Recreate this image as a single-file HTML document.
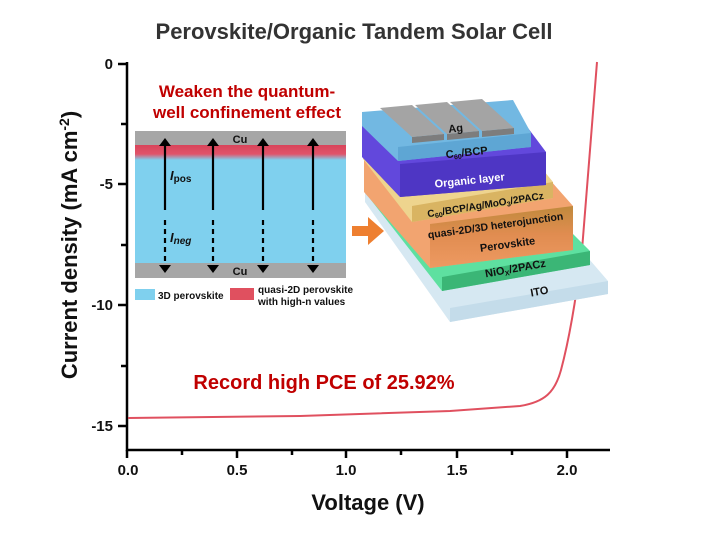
<!DOCTYPE html>
<html><head><meta charset="utf-8"><style>
html,body{margin:0;padding:0;background:#fff;width:709px;height:543px;overflow:hidden}
svg{display:block}
text{font-family:"Liberation Sans",Arial,sans-serif;font-weight:bold}
</style></head><body>
<svg width="709" height="543" viewBox="0 0 709 543">
<defs>
<linearGradient id="rg" x1="0" y1="0" x2="0" y2="1">
<stop offset="0" stop-color="#d9435a"/><stop offset="0.6" stop-color="#e0546a"/><stop offset="1" stop-color="#7fd0ee"/></linearGradient>
<linearGradient id="og" x1="0" y1="0" x2="0" y2="1">
<stop offset="0" stop-color="#c08a3c"/><stop offset="0.45" stop-color="#e08c50"/><stop offset="1" stop-color="#ee9a62"/></linearGradient>
</defs>
<text x="354" y="39" font-size="22" fill="#333" text-anchor="middle">Perovskite/Organic Tandem Solar Cell</text>
<g stroke="#000" stroke-width="2.5" fill="none">
<path d="M127,62 L127,450 L610,450"/>
<path d="M118,64 H127 M121,124 H127 M118,184 H127 M121,245 H127 M118,305 H127 M121,366 H127 M118,426 H127"/>
<path d="M127,450 V458 M182,450 V455 M237,450 V458 M292,450 V455 M346,450 V458 M401,450 V455 M457,450 V458 M512,450 V455 M567,450 V458"/>
</g>
<g font-size="15" fill="#111" text-anchor="end">
<text x="113" y="69">0</text><text x="113" y="189">-5</text><text x="113" y="310">-10</text><text x="113" y="431">-15</text></g>
<g font-size="15" fill="#111" text-anchor="middle">
<text x="128" y="475">0.0</text><text x="237" y="475">0.5</text><text x="346" y="475">1.0</text><text x="457" y="475">1.5</text><text x="567" y="475">2.0</text></g>
<text x="368" y="510" font-size="22" text-anchor="middle" fill="#111">Voltage (V)</text>
<text transform="translate(77,245) rotate(-90)" font-size="22" text-anchor="middle" fill="#111">Current density (mA cm<tspan dy="-8" font-size="14">-2</tspan><tspan dy="8">)</tspan></text>
<path d="M128,418 L300,416 L450,411 L520,406 C545,402 555,392 561,370 C569,340 576,300 582,250 L590,150 L597,62" stroke="#e0505f" stroke-width="2" fill="none"/>
<text x="324" y="389" font-size="20" fill="#c00000" text-anchor="middle">Record high PCE of 25.92%</text>
<text x="247" y="97" font-size="17" fill="#c00000" text-anchor="middle">Weaken the quantum-</text>
<text x="247" y="118" font-size="17" fill="#c00000" text-anchor="middle">well confinement effect</text>
<rect x="135" y="131" width="211" height="147" fill="#7fd0ee"/>
<rect x="135" y="131" width="211" height="14" fill="#a6a6a6"/>
<rect x="135" y="145" width="211" height="15" fill="url(#rg)"/>
<rect x="135" y="263" width="211" height="15" fill="#a6a6a6"/>
<text x="240" y="143" font-size="11" text-anchor="middle" fill="#111">Cu</text>
<text x="240" y="275" font-size="11" text-anchor="middle" fill="#111">Cu</text>
<g stroke="#000" stroke-width="2.2">
<path d="M165,210 V143 M213,210 V143 M263,210 V143 M313,210 V143"/>
<path d="M165,220 V268 M213,220 V268 M263,220 V268 M313,220 V268" stroke-dasharray="5,4"/>
</g>
<g fill="#000">
<path d="M159,146 L165,138 L171,146Z M207,146 L213,138 L219,146Z M257,146 L263,138 L269,146Z M307,146 L313,138 L319,146Z"/>
<path d="M159,265 L165,273 L171,265Z M207,265 L213,273 L219,265Z M257,265 L263,273 L269,265Z M307,265 L313,273 L319,265Z"/>
</g>
<text x="170" y="180" font-size="13" fill="#111" font-style="italic">I<tspan font-size="10" font-style="normal" dy="2">pos</tspan></text>
<text x="170" y="242" font-size="13" fill="#111" font-style="italic">I<tspan font-size="10" dy="2">neg</tspan></text>
<rect x="135" y="289" width="20" height="11" fill="#7fd0ee"/>
<text x="158" y="299" font-size="10" fill="#111">3D perovskite</text>
<rect x="230" y="288" width="24" height="12" fill="#e0505f"/>
<text x="258" y="293" font-size="10" fill="#111">quasi-2D perovskite</text>
<text x="258" y="305" font-size="10" fill="#111">with high-n values</text>
<!-- stack -->
<g>
<polygon points="450,322 608,294 608,281 583,252 365,190 365,202" fill="#d6e8f2"/>
<polygon points="450,308 608,281 608,294 450,322" fill="#c4dcea"/>
<polygon points="442,291 590,265 590,251 565,226 364,177 364,191" fill="#5ee0a0"/>
<polygon points="442,277 590,251 590,265 442,291" fill="#3bb676"/>
<polygon points="430,268 573,250 573,206 550,180 364,148 364,192" fill="#f2a470"/>
<polygon points="430,224 573,206 573,250 430,268" fill="url(#og)"/>
<polygon points="412,222 553,198 553,182 535,160 363,143 363,159" fill="#eed48e"/>
<polygon points="412,206 553,182 553,198 412,222" fill="#d9b462"/>
<polygon points="400,197 546,185 546,152 528,128 362,124 362,157" fill="#6248dc"/>
<polygon points="400,164 546,152 546,185 400,197" fill="#4e36c4"/>
<polygon points="398,161 531,147 531,133 513,100 362,112 362,126" fill="#72b8e2"/>
<polygon points="398,147 531,133 531,147 398,161" fill="#5ea6d4"/>
<polygon points="412,137 444,134 444,140 412,143" fill="#7d7d7d"/>
<polygon points="380,108 412,105 444,134 412,137" fill="#a4a4a4"/>
<polygon points="447,134 479,131 479,137 447,140" fill="#7d7d7d"/>
<polygon points="415,105 447,102 479,131 447,134" fill="#a4a4a4"/>
<polygon points="482,131 514,128 514,134 482,137" fill="#7d7d7d"/>
<polygon points="450,102 482,99 514,128 482,131" fill="#a4a4a4"/>
<g fill="#111" font-size="11" text-anchor="middle">
<text transform="translate(456,132) rotate(-6)">Ag</text>
<text transform="translate(467,156) rotate(-6)">C<tspan font-size="7" dy="2">60</tspan><tspan dy="-2">/BCP</tspan></text>
<text transform="translate(470,184) rotate(-6)" fill="#fff" font-weight="normal">Organic layer</text>
<text transform="translate(486,208) rotate(-9)" font-size="10">C<tspan font-size="7" dy="2">60</tspan><tspan dy="-2">/BCP/Ag/MoO</tspan><tspan font-size="7" dy="2">3</tspan><tspan dy="-2">/2PACz</tspan></text>
<text transform="translate(496,229) rotate(-8)" font-size="10.5">quasi-2D/3D heterojunction</text>
<text transform="translate(508,248) rotate(-8)">Perovskite</text>
<text transform="translate(516,272) rotate(-10)">NiO<tspan font-size="7" dy="2">X</tspan><tspan dy="-2">/2PACz</tspan></text>
<text transform="translate(540,295) rotate(-10)">ITO</text>
</g>
</g>
<path d="M352,226 H368 V217 L384,231 L368,245 V236 H352Z" fill="#ee7f30"/>
</svg>
</body></html>
